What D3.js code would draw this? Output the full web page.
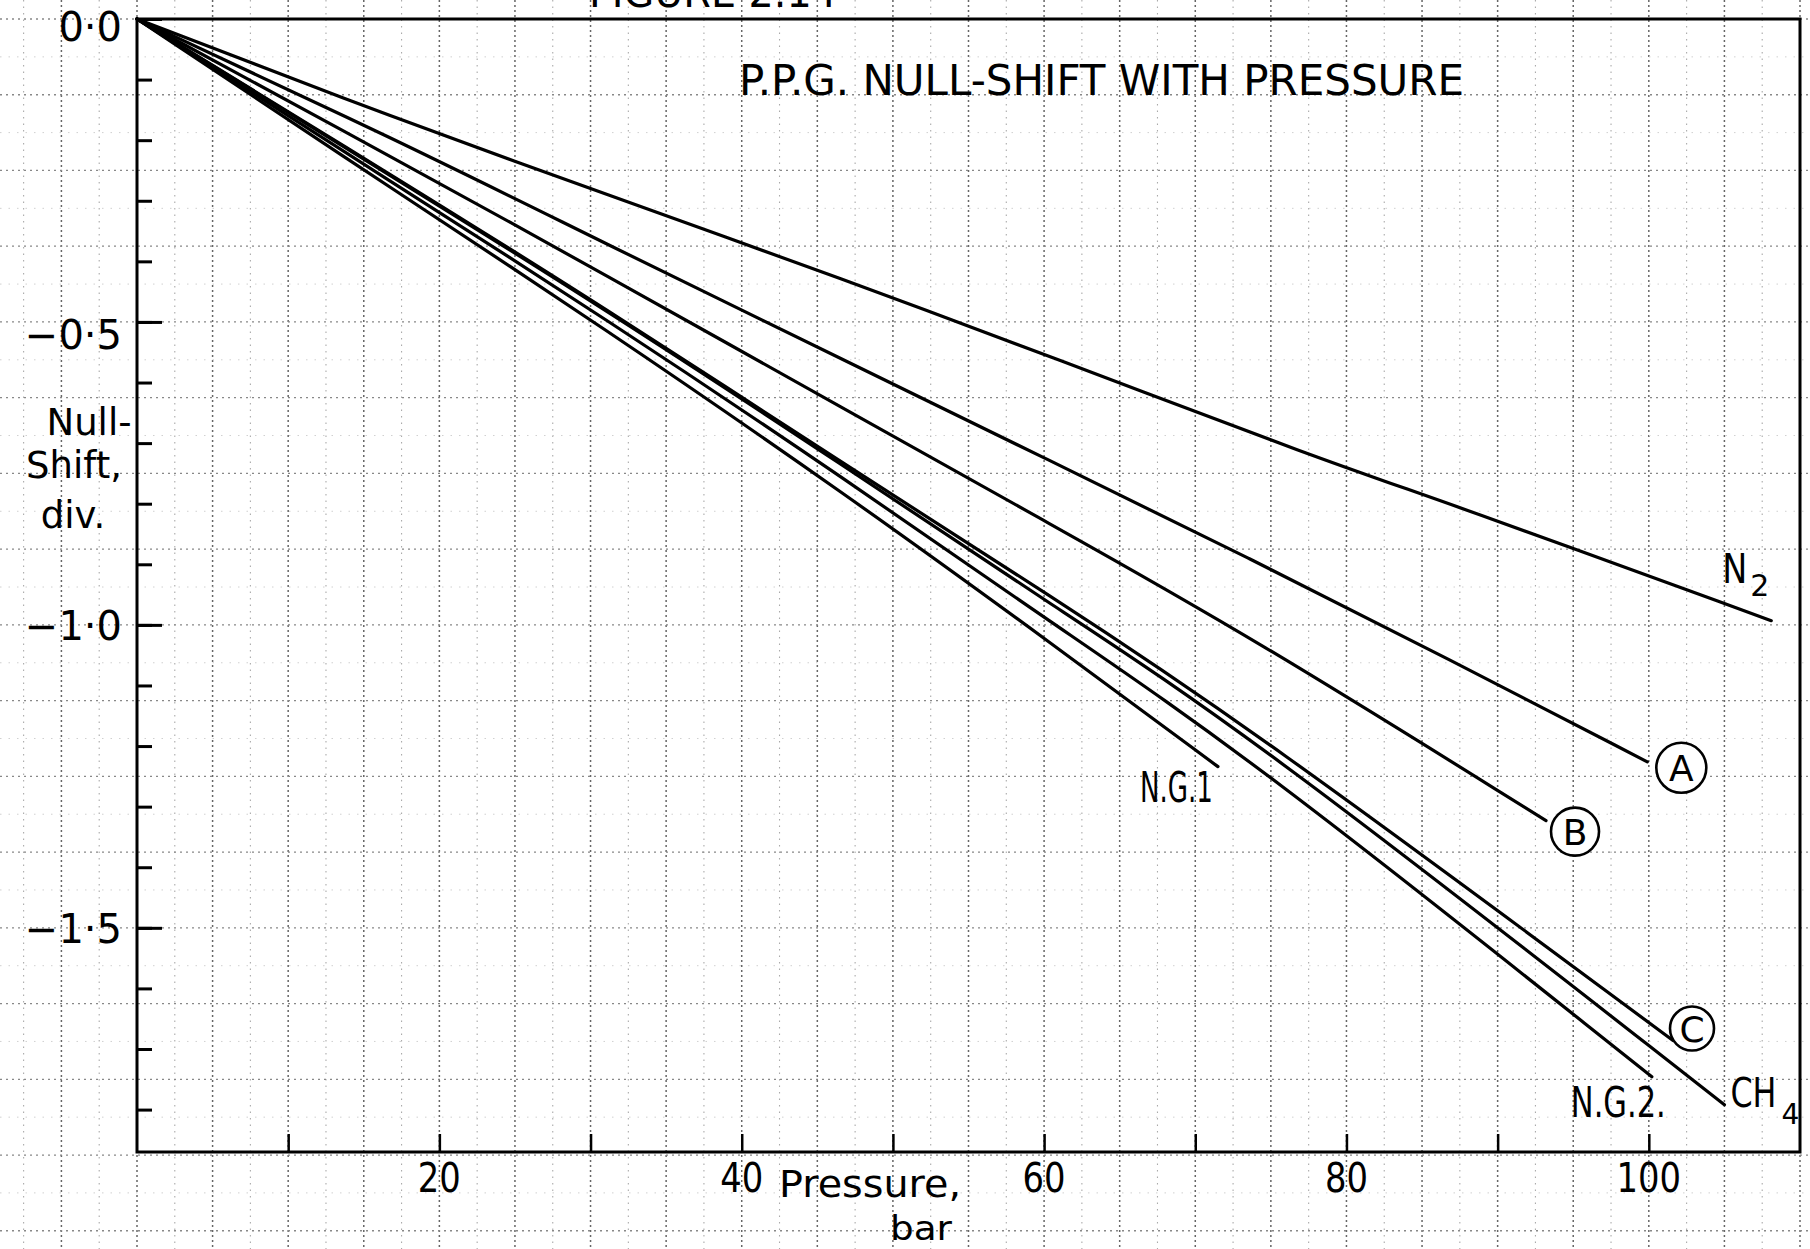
<!DOCTYPE html>
<html>
<head>
<meta charset="utf-8">
<script src="https://cdnjs.cloudflare.com/ajax/libs/d3/7.8.5/d3.min.js"></script>
<style>
  html, body { margin: 0; padding: 0; background: #fff; }
  svg { display: block; }
  text { font-family: 'DejaVu Sans', sans-serif; fill: #000; }
</style>
</head>
<body>
<div id="chart"></div>
<script>
const width = 1810;
const height = 1249;

// readings: pressure (bar) and null-shift (div.)
const n2Pressure  = [0, 17.4, 30.6, 47.1, 60.3, 78.4, 86.8, 108.1];
const n2Shift     = [0, -0.167, -0.285, -0.433, -0.556, -0.728, -0.799, -0.993];
const aPressure   = [0, 17.4, 30.6, 47.1, 60.3, 73.6, 86.8, 99.9];
const aShift      = [0, -0.202, -0.366, -0.567, -0.728, -0.890, -1.057, -1.226];
const bPressure   = [0, 17.4, 30.6, 47.1, 60.3, 73.6, 93.2];
const bShift      = [0, -0.235, -0.417, -0.648, -0.832, -1.018, -1.323];
const cPressure   = [0, 17.4, 30.6, 47.1, 60.3, 73.6, 101.6];
const cShift      = [0, -0.266, -0.471, -0.740, -0.950, -1.168, -1.686];
const ch4Pressure = [0, 17.4, 30.6, 47.1, 60.3, 73.6, 105.0];
const ch4Shift    = [0, -0.268, -0.473, -0.743, -0.964, -1.179, -1.792];
const ng2Pressure = [0, 17.4, 30.6, 47.1, 60.3, 73.6, 100.2];
const ng2Shift    = [0, -0.278, -0.488, -0.763, -0.994, -1.217, -1.746];
const ng1Pressure = [0, 17.4, 30.6, 47.1, 60.3, 71.5];
const ng1Shift    = [0, -0.289, -0.505, -0.788, -1.027, -1.234];

// ticks
const xTicks = [10, 20, 30, 40, 50, 60, 70, 80, 90, 100];
const xLabels = [20, 40, 60, 80, 100];
const yMinorTicks = d3.range(0, -1.85, -0.1);
const yMajorTicks = [0, -0.5, -1.0, -1.5];
const yLabels = ['0·0', '−0·5', '−1·0', '−1·5'];

const svg = d3.select('#chart')
    .append('svg')
    .attr('width', width)
    .attr('height', height);

svg.append('rect')
    .attr('width', width)
    .attr('height', height)
    .attr('fill', '#fff');

const xScale = d3.scaleLinear()
    .domain([0, 110])
    .range([137, 1800]);

const yScale = d3.scaleLinear()
    .domain([0, -1.87])
    .range([19, 1152]);

// graph paper background (runs past the frame, like the sheet)
const gridG = svg.append('g');
const gridX = d3.range(-7.5, 112.6, 2.5);
const gridY = d3.range(0, -2.06, -0.0625);
const isFive = d => Math.abs(d % 5) < 1e-6;

gridG.selectAll('.gx')
    .data(gridX)
    .enter()
    .append('line')
        .attr('x1', d => xScale(d))
        .attr('x2', d => xScale(d))
        .attr('y1', 0)
        .attr('y2', height)
        .attr('stroke', d => isFive(d) ? '#666' : '#aaa')
        .attr('stroke-width', d => isFive(d) ? 1.5 : 1.1)
        .attr('stroke-dasharray', d => isFive(d) ? '2,3' : '1.5,5');

gridG.selectAll('.gy')
    .data(gridY)
    .enter()
    .append('line')
        .attr('x1', 0)
        .attr('x2', width)
        .attr('y1', d => yScale(d))
        .attr('y2', d => yScale(d))
        .attr('stroke', (d, i) => i % 2 == 0 ? '#888' : '#d0d0d0')
        .attr('stroke-width', (d, i) => i % 2 == 0 ? 1.3 : 1)
        .attr('stroke-dasharray', (d, i) => i % 2 == 0 ? '2,4' : '1.5,7');

// frame
svg.append('rect')
    .attr('x', xScale(0))
    .attr('y', yScale(0))
    .attr('width', xScale(110) - xScale(0))
    .attr('height', yScale(-1.87) - yScale(0))
    .attr('fill', 'none')
    .attr('stroke', '#000')
    .attr('stroke-width', 3);

// y ticks point into the plot
const yMinorAxis = d3.axisRight(yScale)
    .tickValues(yMinorTicks)
    .tickSize(15)
    .tickFormat('');

const yMajorAxis = d3.axisRight(yScale)
    .tickValues(yMajorTicks)
    .tickSize(25)
    .tickFormat('');

[yMinorAxis, yMajorAxis].forEach(ax => {
    const g = svg.append('g')
        .attr('transform', `translate(${xScale(0)},0)`)
        .call(ax);
    g.select('.domain').remove();
    g.selectAll('line').attr('stroke', '#000').attr('stroke-width', 3);
});

const xAxis = d3.axisTop(xScale)
    .tickValues(xTicks)
    .tickSize(18)
    .tickFormat('');

const xg = svg.append('g')
    .attr('transform', `translate(0,${yScale(-1.87)})`)
    .call(xAxis);
xg.select('.domain').remove();
xg.selectAll('line').attr('stroke', '#000').attr('stroke-width', 2.5);

// tick labels
svg.selectAll('.ylab')
    .data(yMajorTicks)
    .enter()
    .append('text')
        .attr('x', 122)
        .attr('y', (d, i) => yScale(d) + (i == 0 ? 22 : (i == 1 ? 27 : 15)))
        .attr('text-anchor', 'end')
        .attr('font-size', 40)
        .text((d, i) => yLabels[i]);

svg.selectAll('.xlab')
    .data(xLabels)
    .enter()
    .append('text')
        .attr('x', d => xScale(d))
        .attr('y', 1192)
        .attr('text-anchor', 'middle')
        .attr('font-size', 40)
        .attr('textLength', d => String(d).length * 21.5)
        .attr('lengthAdjust', 'spacingAndGlyphs')
        .text(d => d);

// axis titles
const yTitle = [['Null-', 89, 435], ['Shift,', 74, 478], ['div.', 73, 528]];
svg.selectAll('.ytitle')
    .data(yTitle)
    .enter()
    .append('text')
        .attr('x', d => d[1])
        .attr('y', d => d[2])
        .attr('text-anchor', 'middle')
        .attr('font-size', 37)
        .text(d => d[0]);

svg.append('text')
    .attr('x', 870)
    .attr('y', 1197)
    .attr('text-anchor', 'middle')
    .attr('font-size', 37)
    .attr('textLength', 182)
    .attr('lengthAdjust', 'spacingAndGlyphs')
    .text('Pressure,');

svg.append('text')
    .attr('x', 921)
    .attr('y', 1240)
    .attr('text-anchor', 'middle')
    .attr('font-size', 34)
    .attr('textLength', 62)
    .attr('lengthAdjust', 'spacingAndGlyphs')
    .text('bar');

// titles
svg.append('text')
    .attr('x', 739)
    .attr('y', 95)
    .attr('font-size', 43)
    .attr('textLength', 725)
    .attr('lengthAdjust', 'spacingAndGlyphs')
    .text('P.P.G. NULL-SHIFT WITH PRESSURE');

svg.append('text')
    .attr('x', 589)
    .attr('y', 7)
    .attr('font-size', 42)
    .attr('textLength', 248)
    .attr('lengthAdjust', 'spacingAndGlyphs')
    .text('FIGURE 2.14');

// the curves
const series = [
    { name: 'N2',  xs: n2Pressure,  ys: n2Shift },
    { name: 'A',   xs: aPressure,   ys: aShift },
    { name: 'B',   xs: bPressure,   ys: bShift },
    { name: 'C',   xs: cPressure,   ys: cShift },
    { name: 'CH4', xs: ch4Pressure, ys: ch4Shift },
    { name: 'NG2', xs: ng2Pressure, ys: ng2Shift },
    { name: 'NG1', xs: ng1Pressure, ys: ng1Shift }
];

const line = d3.line()
    .x(d => xScale(d[0]))
    .y(d => yScale(d[1]))
    .curve(d3.curveBasis);

svg.append('g')
    .selectAll('path')
    .data(series)
    .enter()
    .append('path')
        .attr('fill', 'none')
        .attr('stroke', '#000')
        .attr('stroke-width', 3.2)
        .attr('stroke-linecap', 'round')
        .attr('d', d => line(d3.zip(d.xs, d.ys)));

// labels sit next to the end of each curve
function endOf(name) {
    const s = series.find(d => d.name == name);
    const n = s.xs.length - 1;
    return [xScale(s.xs[n]), yScale(s.ys[n])];
}

const labelG = svg.append('g');

// N2 with subscript
let p = endOf('N2');
labelG.append('text')
    .attr('x', p[0] - 49)
    .attr('y', p[1] - 38)
    .attr('font-size', 40)
    .attr('textLength', 25)
    .attr('lengthAdjust', 'spacingAndGlyphs')
    .text('N');
labelG.append('text')
    .attr('x', p[0] - 21)
    .attr('y', p[1] - 25)
    .attr('font-size', 30)
    .text('2');

// CH4 with subscript
p = endOf('CH4');
labelG.append('text')
    .attr('x', p[0] + 6)
    .attr('y', p[1] + 2)
    .attr('font-size', 40)
    .attr('textLength', 46)
    .attr('lengthAdjust', 'spacingAndGlyphs')
    .text('CH');
labelG.append('text')
    .attr('x', p[0] + 57)
    .attr('y', p[1] + 19)
    .attr('font-size', 28)
    .text('4');

p = endOf('NG2');
labelG.append('text')
    .attr('x', p[0] + 14)
    .attr('y', p[1] + 40)
    .attr('text-anchor', 'end')
    .attr('font-size', 42)
    .attr('textLength', 95)
    .attr('lengthAdjust', 'spacingAndGlyphs')
    .text('N.G.2.');

p = endOf('NG1');
labelG.append('text')
    .attr('x', p[0] - 5)
    .attr('y', p[1] + 35)
    .attr('text-anchor', 'end')
    .attr('font-size', 42)
    .attr('textLength', 73)
    .attr('lengthAdjust', 'spacingAndGlyphs')
    .text('N.G.1');

const circled = [['A', 34, 6, 25], ['B', 29, 11, 24], ['C', 19, -12, 22]];
circled.forEach(c => {
    const e = endOf(c[0]);
    labelG.append('circle')
        .attr('cx', e[0] + c[1])
        .attr('cy', e[1] + c[2])
        .attr('r', c[3])
        .attr('fill', '#fff')
        .attr('stroke', '#000')
        .attr('stroke-width', 2.6);
    labelG.append('text')
        .attr('x', e[0] + c[1])
        .attr('y', e[1] + c[2] + 13)
        .attr('text-anchor', 'middle')
        .attr('font-size', 36)
        .text(c[0]);
});
</script>
</body>
</html>
